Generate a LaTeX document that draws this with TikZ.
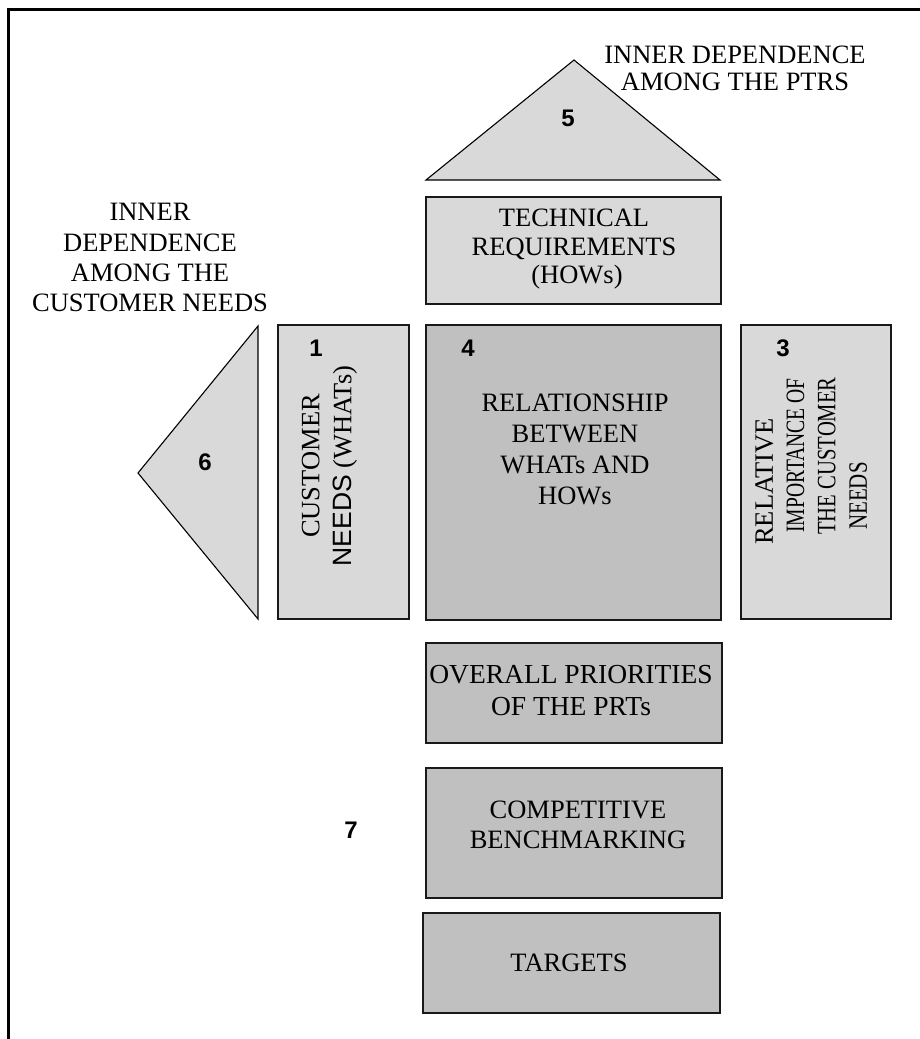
\documentclass[tikz,border=0pt]{standalone}
\usepackage{fontspec}
\usepackage{graphicx}
\setmainfont{Liberation Serif}
\setsansfont{Liberation Sans}
\definecolor{lightg}{HTML}{D9D9D9}
\definecolor{darkg}{HTML}{C0C0C0}
\begin{document}
\begin{tikzpicture}[x=1pt,y=-1pt,
  lightbox/.style={rectangle, fill=lightg, draw=black!90, line width=1.5pt, inner sep=0pt},
  darkbox/.style={rectangle, fill=darkg, draw=black!90, line width=1.5pt, inner sep=0pt},
  tri/.style={fill=lightg, draw=black, line width=1.1pt, line join=miter},
  txt/.style={align=center, inner sep=0pt, text height=17.5pt, text depth=0pt},
  num/.style={inner sep=0pt, text height=17.2pt, text depth=0pt, font=\sffamily\bfseries\fontsize{24}{24}\selectfont},
  frame/.style={draw=black, line width=2.5pt}
]
\useasboundingbox (0,0) rectangle (919,1039);
% outer frame (only top and left edges are visible)
\coordinate (fb) at (8.5,1050);
\coordinate (ft) at (930,9.5);
\draw[frame] (fb) |- (ft);

% triangles
\coordinate (t5l) at (426,180);
\coordinate (t5a) at (574,60);
\coordinate (t5r) at (720,180);
\draw[tri] (t5l) -- (t5a) -- (t5r) -- cycle;
\coordinate (t6t) at (258,326);
\coordinate (t6a) at (138,473);
\coordinate (t6b) at (258,619);
\draw[tri] (t6t) -- (t6a) -- (t6b) -- cycle;

% boxes
\node[lightbox, minimum width=295pt, minimum height=107pt] (tech) at (573.5,250.5) {};
\node[lightbox, minimum width=131pt, minimum height=294pt] (b1) at (343.5,472) {};
\node[darkbox, minimum width=295pt, minimum height=295pt] (b4) at (573.5,472.5) {};
\node[lightbox, minimum width=150pt, minimum height=294pt] (b3) at (816,472) {};
\node[darkbox, minimum width=296pt, minimum height=100pt] (prio) at (574,693) {};
\node[darkbox, minimum width=296pt, minimum height=130pt] (bench) at (574,833) {};
\node[darkbox, minimum width=297pt, minimum height=100pt] (targ) at (571.5,963) {};

% numbers
\node[num] (n5) at (568,118) {5};
\node[num] (n1) at (316,348) {1};
\node[num] (n4) at (468,348) {4};
\node[num] (n3) at (783,348) {3};
\node[num] (n6) at (205,462) {6};
\node[num] (n7) at (351,830) {7};

% texts (each node is placed at the centre of its last line)
\node[txt, font=\fontsize{26.5}{27}\selectfont] (ltop) at (735,82) {INNER DEPENDENCE\\AMONG THE PTRS};
\node[txt, font=\fontsize{26.5}{30.3}\selectfont] (lleft) at (150,303) {INNER\\DEPENDENCE\\AMONG THE\\CUSTOMER NEEDS};
\node[txt, font=\fontsize{26.5}{28.5}\selectfont] (ttech) at (574,275) {TECHNICAL\\REQUIREMENTS\\\hspace*{6pt}(HOWs)};
\node[txt, font=\fontsize{26.5}{31}\selectfont] (tb4) at (575,496) {RELATIONSHIP\\BETWEEN\\WHATs AND\\HOWs};
\node[txt, rotate=90, font=\fontsize{26.5}{32}\selectfont] (tb1) at (342.5,466) {CUSTOMER\\{\sffamily NEEDS} (WHATs)};
\node[txt, rotate=90, align=left, anchor=west, font=\fontsize{26.5}{31.3}\selectfont] (tb3) at (858,545)
  {RELATIVE\\\hspace*{12pt}\scalebox{0.74}[1]{IMPORTANCE OF}\\\hspace*{10pt}\scalebox{0.78}[1]{THE CUSTOMER}\\\hspace*{15pt}\scalebox{0.79}[1]{NEEDS}};
\node[txt, font=\fontsize{27.5}{32}\selectfont] (tprio) at (571,707) {OVERALL PRIORITIES\\OF THE PRTs};
\node[txt, font=\fontsize{26.5}{30}\selectfont] (tbench) at (578,840) {COMPETITIVE\\BENCHMARKING};
\node[txt, font=\fontsize{26.5}{30}\selectfont] (ttarg) at (569,963) {TARGETS};
\end{tikzpicture}
\end{document}
